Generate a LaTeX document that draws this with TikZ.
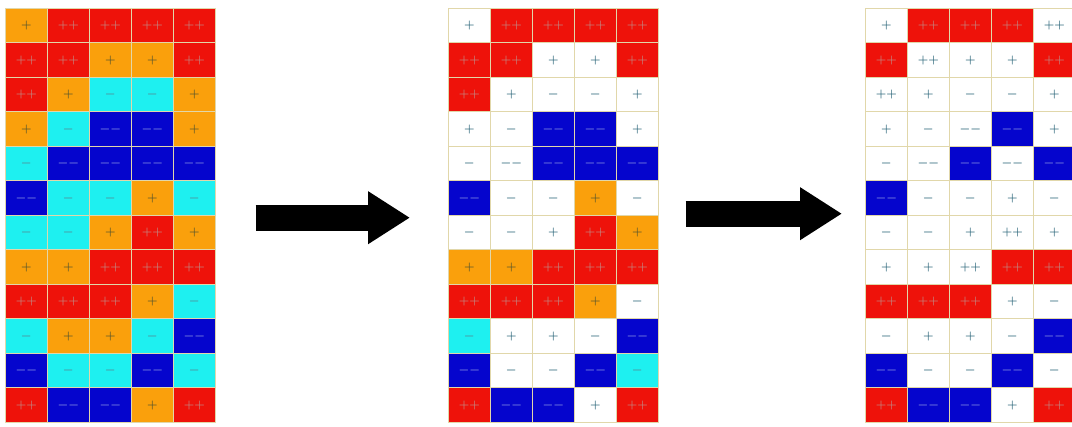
\documentclass[tikz,border=0pt]{standalone}
\usetikzlibrary{arrows.meta}

\definecolor{hotfill}{RGB}{238,18,10}
\definecolor{hottext}{RGB}{195,135,130}
\definecolor{warmfill}{RGB}{250,160,12}
\definecolor{warmtext}{RGB}{85,85,45}
\definecolor{coolfill}{RGB}{30,240,240}
\definecolor{cooltext}{RGB}{85,135,145}
\definecolor{coldfill}{RGB}{5,5,205}
\definecolor{coldtext}{RGB}{135,145,225}
\definecolor{plaintext}{RGB}{40,100,120}
\definecolor{gridline}{RGB}{225,215,170}

\begin{document}
\begin{tikzpicture}[
  x=1pt, y=-1pt,
  cell/.style={rectangle, draw=gridline, line width=0.7pt, minimum width=42pt,
               minimum height=34.5pt, inner sep=0pt, anchor=north west,
               font=\large\boldmath},
  ppcell/.style={cell, fill=hotfill, text=hottext},
  pcell/.style={cell, fill=warmfill, text=warmtext},
  mcell/.style={cell, fill=coolfill, text=cooltext},
  mmcell/.style={cell, fill=coldfill, text=coldtext},
  wcell/.style={cell, fill=white, text=plaintext},
  bigarr/.style={-{Triangle[length=42pt, width=50pt]}, line width=26pt, black},
]
  \useasboundingbox (0,0) rectangle (1072,427);

  % starting grid
  \foreach \row [count=\i] in {
      {pcell/+,ppcell/++,ppcell/++,ppcell/++,ppcell/++},
      {ppcell/++,ppcell/++,pcell/+,pcell/+,ppcell/++},
      {ppcell/++,pcell/+,mcell/-,mcell/-,pcell/+},
      {pcell/+,mcell/-,mmcell/--,mmcell/--,pcell/+},
      {mcell/-,mmcell/--,mmcell/--,mmcell/--,mmcell/--},
      {mmcell/--,mcell/-,mcell/-,pcell/+,mcell/-},
      {mcell/-,mcell/-,pcell/+,ppcell/++,pcell/+},
      {pcell/+,pcell/+,ppcell/++,ppcell/++,ppcell/++},
      {ppcell/++,ppcell/++,ppcell/++,pcell/+,mcell/-},
      {mcell/-,pcell/+,pcell/+,mcell/-,mmcell/--},
      {mmcell/--,mcell/-,mcell/-,mmcell/--,mcell/-},
      {ppcell/++,mmcell/--,mmcell/--,pcell/+,ppcell/++}}
    \foreach \kind/\sgn [count=\j] in \row
      \node[\kind] (a-\i-\j) at ({5+42*(\j-1)},{8+34.5*(\i-1)}) {$\sgn$};

  % middle grid
  \foreach \row [count=\i] in {
      {wcell/+,ppcell/++,ppcell/++,ppcell/++,ppcell/++},
      {ppcell/++,ppcell/++,wcell/+,wcell/+,ppcell/++},
      {ppcell/++,wcell/+,wcell/-,wcell/-,wcell/+},
      {wcell/+,wcell/-,mmcell/--,mmcell/--,wcell/+},
      {wcell/-,wcell/--,mmcell/--,mmcell/--,mmcell/--},
      {mmcell/--,wcell/-,wcell/-,pcell/+,wcell/-},
      {wcell/-,wcell/-,wcell/+,ppcell/++,pcell/+},
      {pcell/+,pcell/+,ppcell/++,ppcell/++,ppcell/++},
      {ppcell/++,ppcell/++,ppcell/++,pcell/+,wcell/-},
      {mcell/-,wcell/+,wcell/+,wcell/-,mmcell/--},
      {mmcell/--,wcell/-,wcell/-,mmcell/--,mcell/-},
      {ppcell/++,mmcell/--,mmcell/--,wcell/+,ppcell/++}}
    \foreach \kind/\sgn [count=\j] in \row
      \node[\kind] (b-\i-\j) at ({448+42*(\j-1)},{8+34.5*(\i-1)}) {$\sgn$};

  % final grid
  \foreach \row [count=\i] in {
      {wcell/+,ppcell/++,ppcell/++,ppcell/++,wcell/++},
      {ppcell/++,wcell/++,wcell/+,wcell/+,ppcell/++},
      {wcell/++,wcell/+,wcell/-,wcell/-,wcell/+},
      {wcell/+,wcell/-,wcell/--,mmcell/--,wcell/+},
      {wcell/-,wcell/--,mmcell/--,wcell/--,mmcell/--},
      {mmcell/--,wcell/-,wcell/-,wcell/+,wcell/-},
      {wcell/-,wcell/-,wcell/+,wcell/++,wcell/+},
      {wcell/+,wcell/+,wcell/++,ppcell/++,ppcell/++},
      {ppcell/++,ppcell/++,ppcell/++,wcell/+,wcell/-},
      {wcell/-,wcell/+,wcell/+,wcell/-,mmcell/--},
      {mmcell/--,wcell/-,wcell/-,mmcell/--,wcell/-},
      {ppcell/++,mmcell/--,mmcell/--,wcell/+,ppcell/++}}
    \foreach \kind/\sgn [count=\j] in \row
      \node[\kind] (c-\i-\j) at ({865+42*(\j-1)},{8+34.5*(\i-1)}) {$\sgn$};

  \draw[bigarr] ([xshift=40pt,yshift=-2pt]a-6-5.south east) -- ([xshift=-38pt,yshift=-2pt]b-6-1.south west);
  \draw[bigarr] ([xshift=27pt,yshift=2pt]b-6-5.south east) -- ([xshift=-23pt,yshift=2pt]c-6-1.south west);
\end{tikzpicture}
\end{document}
